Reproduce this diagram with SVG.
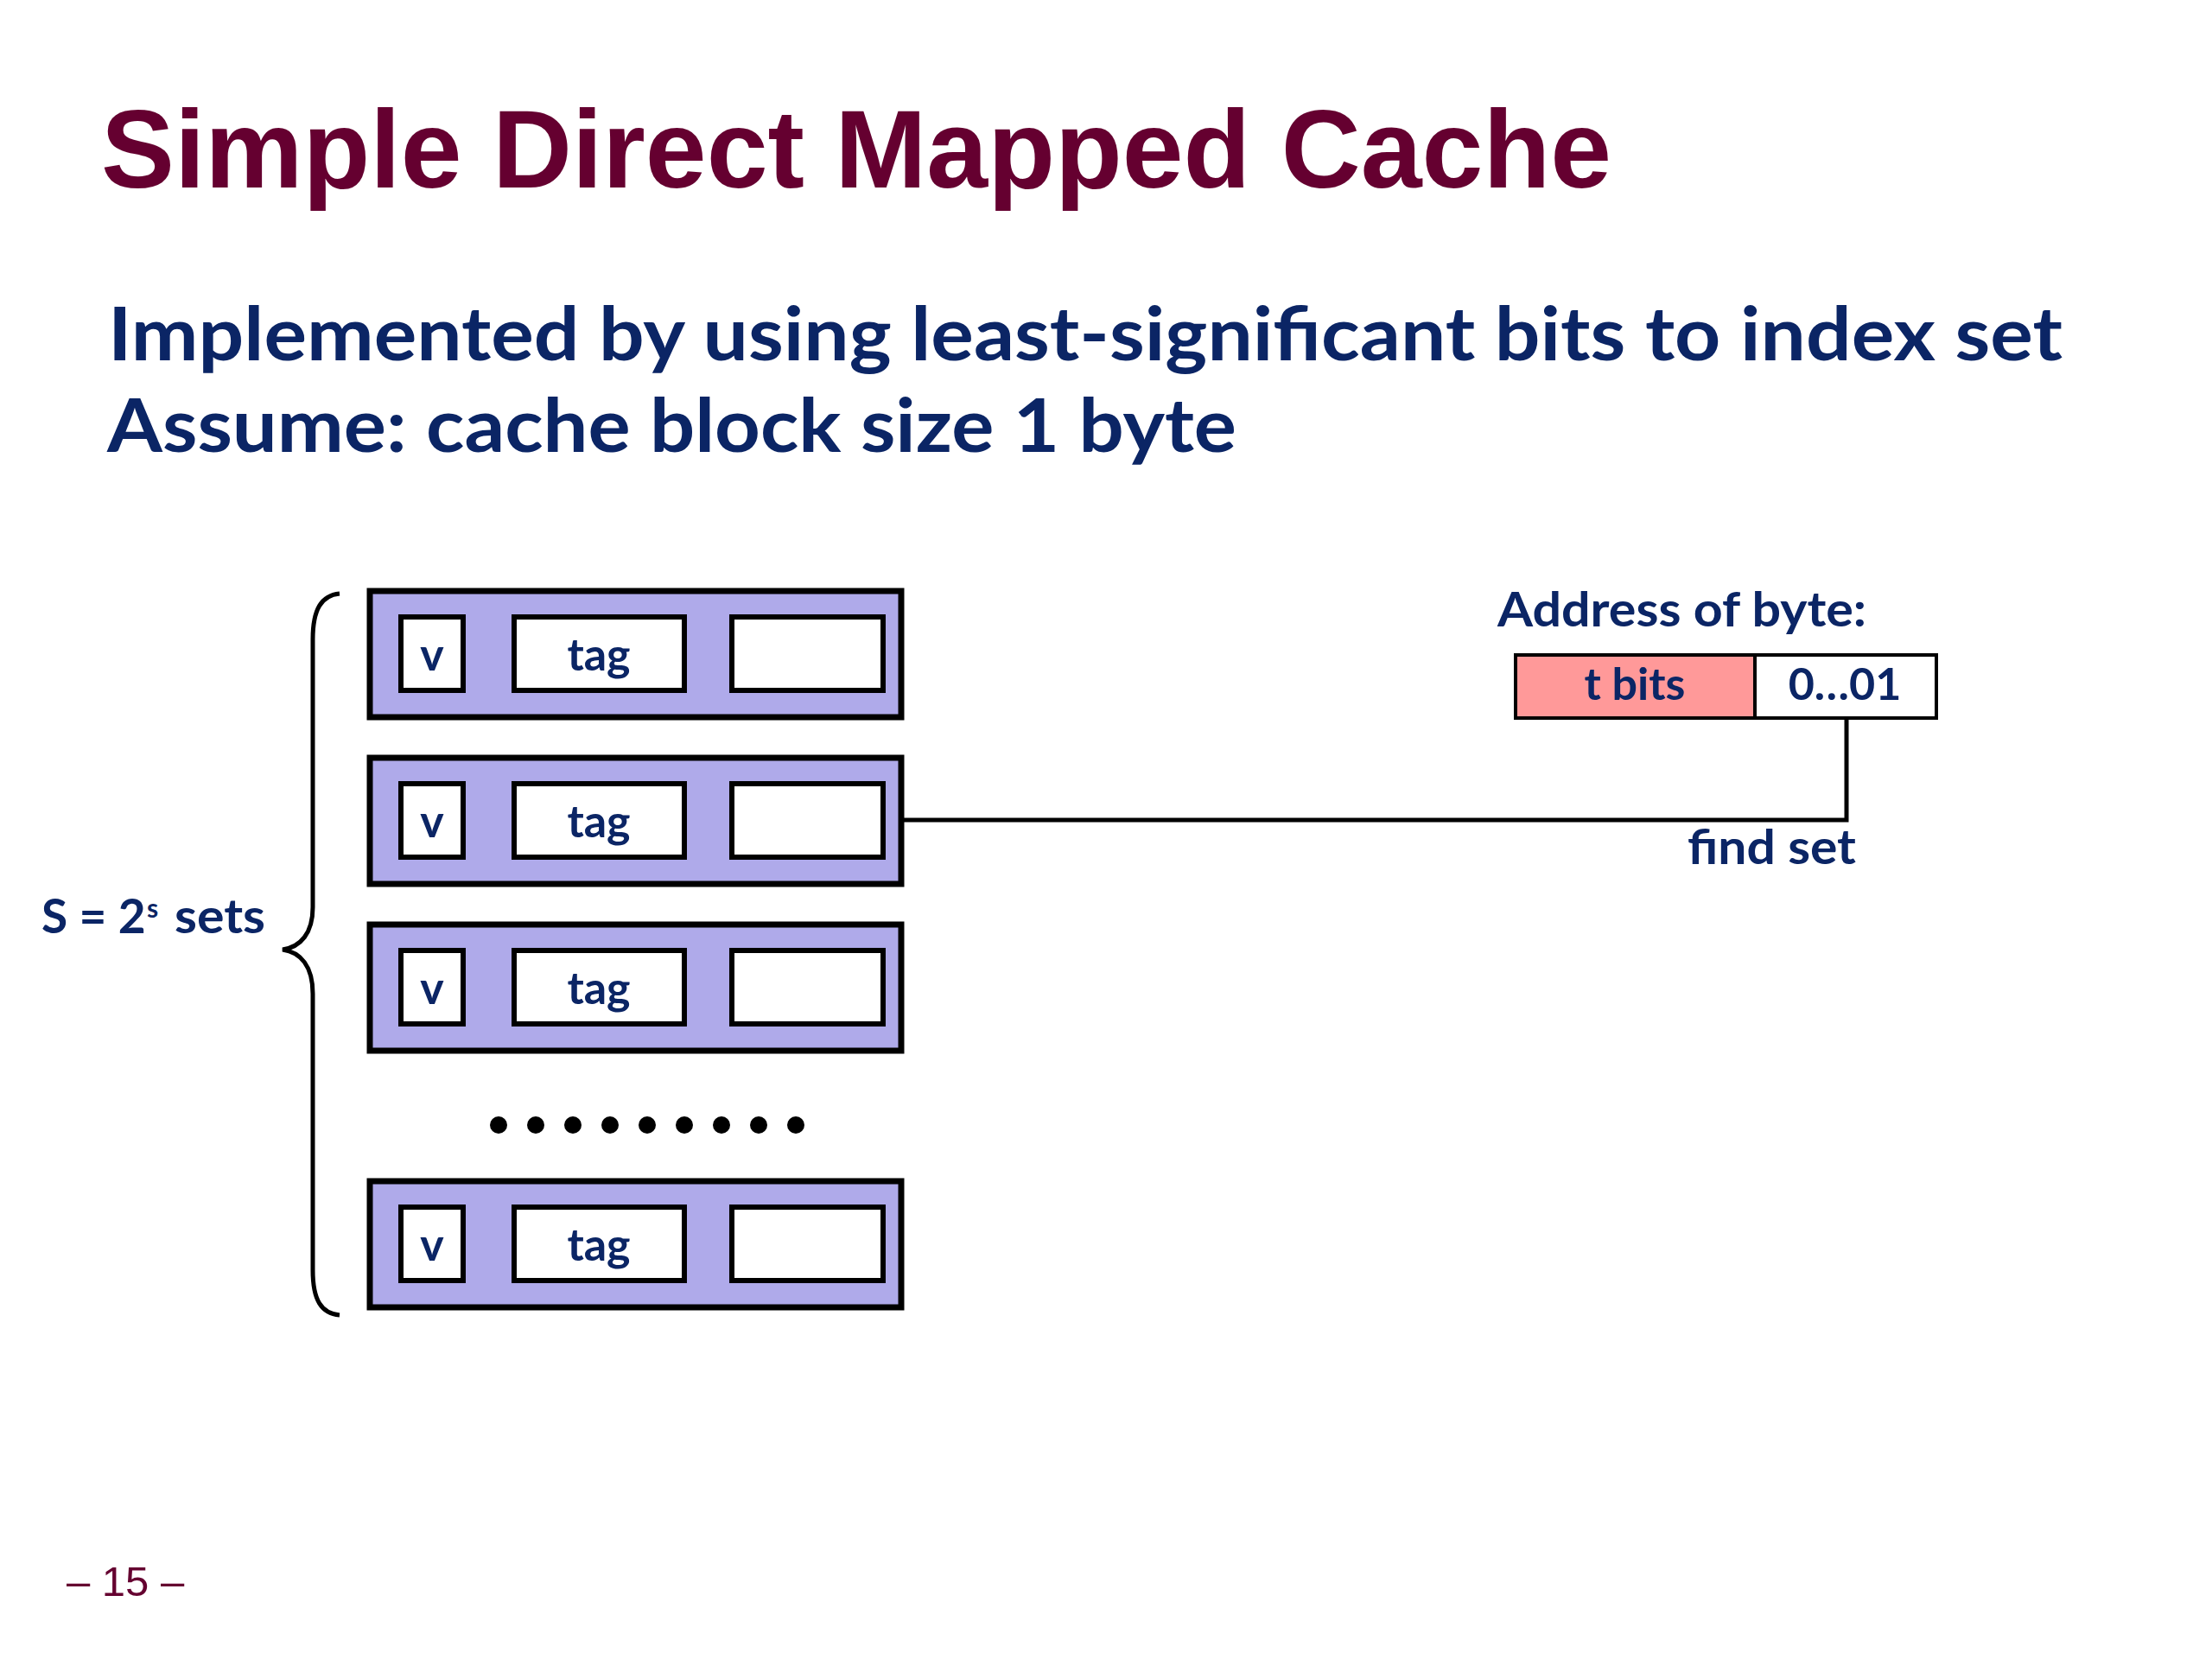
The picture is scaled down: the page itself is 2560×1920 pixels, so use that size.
<svg xmlns="http://www.w3.org/2000/svg" width="2560" height="1920" viewBox="0 0 2560 1920">
<style>
.title{font-family:"Liberation Sans",Arial,sans-serif;font-weight:bold;fill:#650030}
.pg{font-family:"Liberation Sans",Arial,sans-serif;fill:#650030}
.sub{font-family:Lato,"Open Sans",sans-serif;font-weight:bold;fill:#0b2565}
.lbl{font-family:Lato,"Open Sans",sans-serif;font-weight:bold;fill:#0b2565}
.set{fill:#afaaea;stroke:#000;stroke-width:7}
.cell{fill:#fff;stroke:#000;stroke-width:6}
.ln{fill:none;stroke:#000;stroke-width:5}
</style>
<rect width="2560" height="1920" fill="#fff"/>
<text class="title" x="117" y="217" font-size="128" textLength="1748" lengthAdjust="spacingAndGlyphs">Simple Direct Mapped Cache</text>
<text class="sub" x="125" y="417" font-size="86" textLength="2262" lengthAdjust="spacingAndGlyphs">Implemented by using least-significant bits to index set</text>
<text class="sub" x="124" y="523" font-size="86" textLength="1307" lengthAdjust="spacingAndGlyphs">Assume: cache block size 1 byte</text>

<g id="brace">
<path class="ln" d="M393 687 C372 689 362 705 362 740 L362 1050 C362 1080 348 1096 327 1099 C348 1102 362 1118 362 1150 L362 1470 C362 1505 372 1520 393 1522"/>
<text class="lbl" font-size="55"><tspan x="48" y="1080">S = 2</tspan><tspan x="170" y="1062" font-size="30">s</tspan><tspan x="202" y="1080" textLength="105" lengthAdjust="spacingAndGlyphs">sets</tspan></text>
</g>

<g id="set0">
<rect class="set" x="428" y="684" width="615" height="146"/>
<rect class="cell" x="464" y="714" width="72" height="85"/>
<rect class="cell" x="595" y="714" width="197" height="85"/>
<rect class="cell" x="847" y="714" width="175" height="85"/>
<text class="lbl" x="500" y="776" font-size="52" text-anchor="middle">v</text>
<text class="lbl" x="693" y="776" font-size="52" text-anchor="middle">tag</text>
</g>
<g id="set1">
<rect class="set" x="428" y="877" width="615" height="146"/>
<rect class="cell" x="464" y="907" width="72" height="85"/>
<rect class="cell" x="595" y="907" width="197" height="85"/>
<rect class="cell" x="847" y="907" width="175" height="85"/>
<text class="lbl" x="500" y="969" font-size="52" text-anchor="middle">v</text>
<text class="lbl" x="693" y="969" font-size="52" text-anchor="middle">tag</text>
</g>
<g id="set2">
<rect class="set" x="428" y="1070" width="615" height="146"/>
<rect class="cell" x="464" y="1100" width="72" height="85"/>
<rect class="cell" x="595" y="1100" width="197" height="85"/>
<rect class="cell" x="847" y="1100" width="175" height="85"/>
<text class="lbl" x="500" y="1162" font-size="52" text-anchor="middle">v</text>
<text class="lbl" x="693" y="1162" font-size="52" text-anchor="middle">tag</text>
</g>
<g id="dots" fill="#000">
<circle cx="577" cy="1302" r="10"/><circle cx="620" cy="1302" r="10"/><circle cx="663" cy="1302" r="10"/>
<circle cx="706" cy="1302" r="10"/><circle cx="749" cy="1302" r="10"/><circle cx="792" cy="1302" r="10"/>
<circle cx="835" cy="1302" r="10"/><circle cx="878" cy="1302" r="10"/><circle cx="921" cy="1302" r="10"/>
</g>
<g id="setLast">
<rect class="set" x="428" y="1367" width="615" height="146"/>
<rect class="cell" x="464" y="1397" width="72" height="85"/>
<rect class="cell" x="595" y="1397" width="197" height="85"/>
<rect class="cell" x="847" y="1397" width="175" height="85"/>
<text class="lbl" x="500" y="1459" font-size="52" text-anchor="middle">v</text>
<text class="lbl" x="693" y="1459" font-size="52" text-anchor="middle">tag</text>
</g>

<g id="address">
<text class="lbl" x="1733" y="725" font-size="56" textLength="427" lengthAdjust="spacingAndGlyphs">Address of byte:</text>
<rect x="1754" y="758" width="277" height="73" fill="#ff9999" stroke="#000" stroke-width="4"/>
<rect x="2031" y="758" width="210" height="73" fill="#fff" stroke="#000" stroke-width="4"/>
<text class="lbl" x="1892" y="810" font-size="52" text-anchor="middle">t bits</text>
<text class="lbl" x="2135" y="810" font-size="52" text-anchor="middle">0…01</text>
</g>

<g id="connectors">
<path class="ln" d="M1046 949 H2137 V833"/>
</g>
<text class="lbl" x="1953" y="1000" font-size="56" textLength="195" lengthAdjust="spacingAndGlyphs">find set</text>

<text class="pg" x="77" y="1847" font-size="49">– 15 –</text>
</svg>
